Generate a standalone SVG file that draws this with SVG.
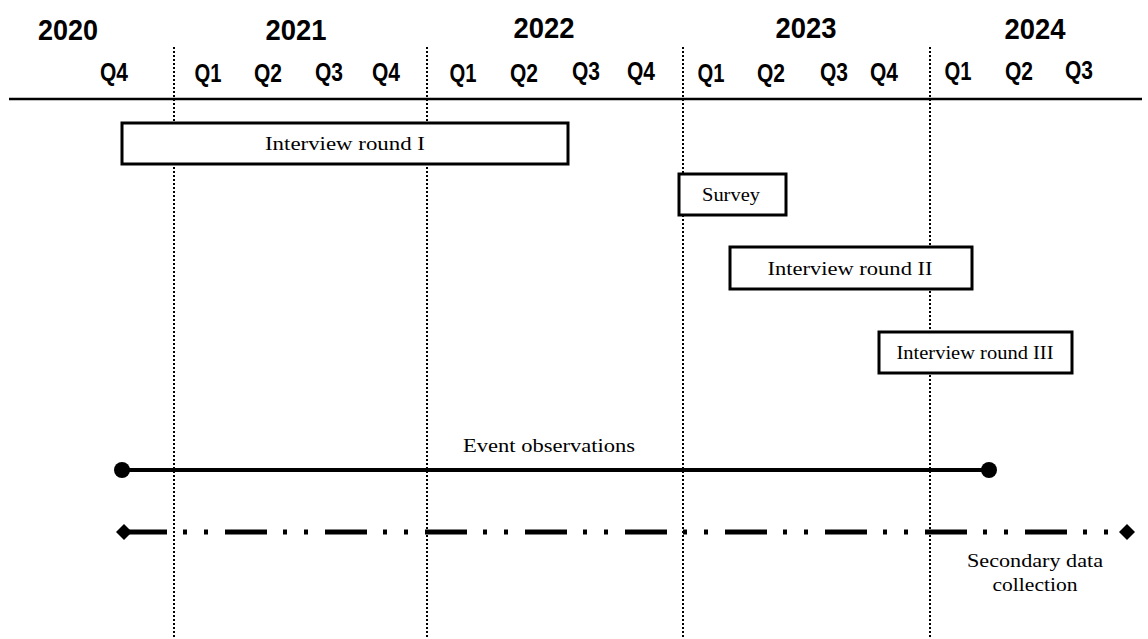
<svg xmlns="http://www.w3.org/2000/svg" width="1148" height="639" viewBox="0 0 1148 639">
<style>
.yr{font-family:"Liberation Sans Narrow","Liberation Sans",sans-serif;font-weight:bold;font-size:29px;text-anchor:middle;fill:#000}
.q{font-family:"Liberation Sans Narrow","Liberation Sans",sans-serif;font-weight:bold;font-size:26.5px;text-anchor:middle;fill:#000}
.lbl{font-family:"Liberation Serif","DejaVu Serif",serif;font-size:19px;text-anchor:middle;fill:#000}
.box{fill:#fff;stroke:#000;stroke-width:3}
.vdot{stroke:#000;stroke-width:2;stroke-dasharray:2 2;fill:none}
</style>
<rect width="1148" height="639" fill="#fff"/>
<g id="header">
<text class="yr" x="68" y="40" textLength="60" lengthAdjust="spacingAndGlyphs">2020</text>
<text class="yr" x="296" y="40" textLength="61" lengthAdjust="spacingAndGlyphs">2021</text>
<text class="yr" x="544" y="38" textLength="61" lengthAdjust="spacingAndGlyphs">2022</text>
<text class="yr" x="806" y="38" textLength="61" lengthAdjust="spacingAndGlyphs">2023</text>
<text class="yr" x="1035" y="39" textLength="61" lengthAdjust="spacingAndGlyphs">2024</text>
<text class="q" x="114" y="81" textLength="28" lengthAdjust="spacingAndGlyphs">Q4</text>
<text class="q" x="208" y="82" textLength="27" lengthAdjust="spacingAndGlyphs">Q1</text>
<text class="q" x="268" y="82" textLength="28" lengthAdjust="spacingAndGlyphs">Q2</text>
<text class="q" x="329" y="81" textLength="28" lengthAdjust="spacingAndGlyphs">Q3</text>
<text class="q" x="386" y="81" textLength="28" lengthAdjust="spacingAndGlyphs">Q4</text>
<text class="q" x="463" y="82" textLength="27" lengthAdjust="spacingAndGlyphs">Q1</text>
<text class="q" x="524" y="82" textLength="28" lengthAdjust="spacingAndGlyphs">Q2</text>
<text class="q" x="586" y="80" textLength="28" lengthAdjust="spacingAndGlyphs">Q3</text>
<text class="q" x="641" y="80" textLength="28" lengthAdjust="spacingAndGlyphs">Q4</text>
<text class="q" x="711" y="82" textLength="27" lengthAdjust="spacingAndGlyphs">Q1</text>
<text class="q" x="771" y="82" textLength="28" lengthAdjust="spacingAndGlyphs">Q2</text>
<text class="q" x="834" y="81" textLength="28" lengthAdjust="spacingAndGlyphs">Q3</text>
<text class="q" x="884" y="81" textLength="28" lengthAdjust="spacingAndGlyphs">Q4</text>
<text class="q" x="958" y="80" textLength="27" lengthAdjust="spacingAndGlyphs">Q1</text>
<text class="q" x="1019" y="80" textLength="28" lengthAdjust="spacingAndGlyphs">Q2</text>
<text class="q" x="1079" y="79" textLength="28" lengthAdjust="spacingAndGlyphs">Q3</text>
<line x1="9" y1="99" x2="1142" y2="99" stroke="#000" stroke-width="2.5"/>
</g>
<g id="gridlines">
<line class="vdot" x1="174" y1="47" x2="174" y2="639"/>
<line class="vdot" x1="427" y1="47" x2="427" y2="639"/>
<line class="vdot" x1="683" y1="47" x2="683" y2="639"/>
<line class="vdot" x1="930" y1="47" x2="930" y2="639"/>
</g>
<g id="interview1">
<rect class="box" x="122" y="123" width="446" height="41"/>
<text class="lbl" x="345" y="150" textLength="160" lengthAdjust="spacingAndGlyphs">Interview round I</text>
</g>
<g id="survey">
<rect class="box" x="679" y="174" width="107" height="41"/>
<text class="lbl" x="731" y="201" textLength="58" lengthAdjust="spacingAndGlyphs">Survey</text>
</g>
<g id="interview2">
<rect class="box" x="730" y="247" width="242" height="42"/>
<text class="lbl" x="850" y="275" textLength="165" lengthAdjust="spacingAndGlyphs">Interview round II</text>
</g>
<g id="interview3">
<rect class="box" x="879" y="332" width="193" height="41"/>
<text class="lbl" x="975" y="359" textLength="157" lengthAdjust="spacingAndGlyphs">Interview round III</text>
</g>
<g id="events">
<line x1="122" y1="470" x2="989" y2="470" stroke="#000" stroke-width="4"/>
<circle cx="122" cy="470" r="8" fill="#000"/>
<circle cx="989" cy="470" r="8" fill="#000"/>
<text class="lbl" x="549" y="452" textLength="172" lengthAdjust="spacingAndGlyphs">Event observations</text>
</g>
<g id="secondary">
<line x1="125" y1="532" x2="1122" y2="532" stroke="#000" stroke-width="5" stroke-dasharray="42 16 4 17 4 17"/>
<polygon points="116,532 124,524 132,532 124,540" fill="#000"/>
<polygon points="1119,532 1127,524 1135,532 1127,540" fill="#000"/>
<text class="lbl" x="1035" y="567" textLength="136" lengthAdjust="spacingAndGlyphs">Secondary data</text>
<text class="lbl" x="1035" y="591" textLength="85" lengthAdjust="spacingAndGlyphs">collection</text>
</g>
</svg>
